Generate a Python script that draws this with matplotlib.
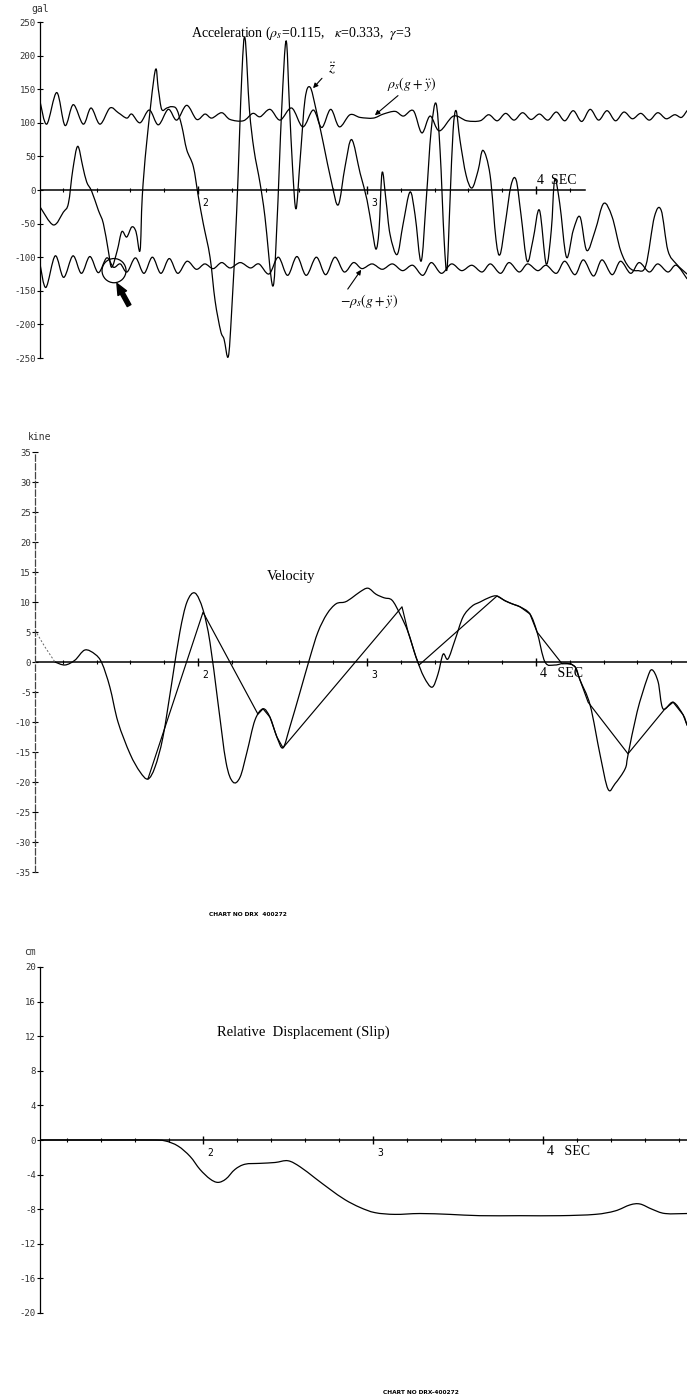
"""
slip.py - sliding block record: acceleration, velocity and slip traces.
Values digitised by eye from the chart record, shared time base in seconds.
"""
import numpy as np
import matplotlib
matplotlib.use("Agg")
import matplotlib.pyplot as plt
from matplotlib.path import Path
from matplotlib.patches import PathPatch, Ellipse

plt.rcParams["mathtext.fontset"] = "stix"

SERIF = "Liberation Serif"
MONO = "DejaVu Sans Mono"

# ---------------- acceleration (gal) ----------------
acc_ticks = [250, 200, 150, 100, 50, 0, -50, -100, -150, -200, -250]

fric_up_t = [1.065, 1.105, 1.164, 1.213, 1.262, 1.321, 1.367, 1.420, 1.479, 1.528,
             1.578, 1.608, 1.657, 1.712, 1.765, 1.824, 1.874, 1.933, 1.992, 2.041,
             2.081, 2.140, 2.189, 2.268, 2.324, 2.367, 2.426, 2.485, 2.554, 2.620,
             2.682, 2.732, 2.785, 2.836, 2.899, 2.959, 3.037, 3.096, 3.166, 3.215,
             3.274, 3.324, 3.373, 3.428, 3.511, 3.590, 3.669, 3.72, 3.77, 3.82,
             3.87, 3.92, 3.97, 4.02, 4.07, 4.12, 4.17, 4.22, 4.27, 4.32,
             4.37, 4.42, 4.47, 4.52, 4.57, 4.62, 4.67, 4.72, 4.77, 4.82,
             4.86, 4.893]
fric_up_a = [132, 98, 145, 96, 127, 98, 122, 98, 122, 115,
             107, 113, 100, 119, 97, 120, 104, 126, 105, 113,
             107, 115, 105, 103, 114, 109, 120, 104, 122, 94,
             119, 93, 120, 94, 112, 108, 107, 113, 117, 110,
             118, 85, 110, 88, 110, 103, 103, 112, 103, 114,
             104, 115, 105, 113, 104, 116, 103, 118, 102, 120,
             104, 118, 103, 116, 106, 114, 104, 115, 106, 112,
             108, 118]

fric_lo_t = [1.065, 1.10, 1.155, 1.205, 1.26, 1.31, 1.36, 1.41, 1.46, 1.50,
             1.54, 1.58, 1.63, 1.68, 1.73, 1.78, 1.83, 1.88, 1.935, 1.99,
             2.04, 2.09, 2.14, 2.19, 2.25, 2.31, 2.36, 2.42, 2.475, 2.53,
             2.585, 2.64, 2.70, 2.755, 2.81, 2.865, 2.92, 2.97, 3.03, 3.09,
             3.15, 3.21, 3.27, 3.33, 3.38, 3.44, 3.50, 3.56, 3.62, 3.68,
             3.73, 3.79, 3.84, 3.90, 3.95, 4.01, 4.06, 4.12, 4.17, 4.23,
             4.28, 4.34, 4.39, 4.45, 4.50, 4.56, 4.61, 4.67, 4.72, 4.78,
             4.83, 4.893]
fric_lo_a = [-110, -145, -98, -130, -98, -124, -99, -123, -101, -115,
             -110, -122, -101, -124, -100, -124, -102, -124, -106, -118,
             -110, -117, -108, -116, -108, -116, -110, -125, -100, -127,
             -99, -127, -100, -126, -100, -122, -108, -117, -110, -118,
             -110, -120, -112, -127, -108, -124, -110, -120, -112, -122,
             -110, -124, -108, -122, -110, -120, -112, -124, -106, -126,
             -104, -128, -104, -126, -106, -124, -108, -122, -110, -122,
             -112, -132]

zdd_t = [1.065, 1.144, 1.203, 1.233, 1.259, 1.288, 1.318, 1.341, 1.371, 1.410,
         1.440, 1.469, 1.489, 1.522, 1.549, 1.578, 1.608, 1.633, 1.657, 1.670,
         1.696, 1.746, 1.765, 1.785, 1.815, 1.844, 1.874, 1.904, 1.933, 1.972,
         2.002, 2.031, 2.071, 2.101, 2.134, 2.154, 2.179, 2.199, 2.229, 2.259,
         2.278, 2.304, 2.331, 2.367, 2.396, 2.442, 2.466, 2.495, 2.521, 2.540,
         2.560, 2.580, 2.604, 2.633, 2.663, 2.698, 2.741, 2.791, 2.830, 2.870,
         2.909, 2.959,
         3.0, 3.03, 3.053, 3.071, 3.089, 3.112, 3.136, 3.178, 3.213, 3.254,
         3.284, 3.320, 3.35, 3.379, 3.408, 3.432, 3.456, 3.473, 3.491, 3.509,
         3.527, 3.550, 3.586, 3.621, 3.657, 3.686, 3.728, 3.763, 3.787, 3.817,
         3.852, 3.882, 3.911, 3.947, 3.982,
         4.02, 4.06, 4.09, 4.11, 4.14, 4.18, 4.22, 4.26, 4.30, 4.35,
         4.40, 4.45, 4.50, 4.55, 4.60, 4.65, 4.70, 4.74, 4.78, 4.83, 4.893]
zdd_a = [-25, -52, -33, -20, 30, 65, 35, 12, -2, -30,
         -50, -90, -115, -90, -62, -70, -55, -62, -90, -10,
         70, 177, 150, 120, 122, 124, 120, 95, 60, 35,
         -10, -50, -100, -165, -210, -222, -248, -180, -30, 170,
         226, 120, 60, 10, -40, -143, -55, 120, 222, 130,
         30, -28, 45, 135, 153, 120, 70, 10, -22, 35,
         75, 25,
         -15, -59, -88, -59, 26, -15, -66, -96, -51, -3,
         -37, -106, -15, 88, 129, 59, -74, -118, -15, 88,
         118, 74, 22, 3, 29, 59, 22, -74, -96, -51,
         7, 15, -37, -106, -74,
         -30, -110, -60, 15, -20, -100, -60, -40, -90, -60,
         -20, -40, -90, -115, -120, -112, -40, -30, -90, -110, -125]

# ---------------- velocity (kine) ----------------
vel_ticks = [35, 30, 25, 20, 15, 10, 5, 0, -5, -10, -15, -20, -25, -30, -35]

lead_t = [1.036, 1.095, 1.154]
lead_v = [5.3, 2.5, 0]

ground_t = [1.154, 1.213, 1.272, 1.331, 1.391, 1.432, 1.479, 1.527, 1.598, 1.657,
            1.704, 1.746, 1.793, 1.846, 1.893, 1.935, 1.982, 2.030, 2.071, 2.118,
            2.166, 2.207, 2.249, 2.290, 2.337, 2.385, 2.426, 2.467, 2.503, 2.544,
            2.604, 2.663, 2.710, 2.763, 2.817, 2.870, 2.911, 2.959, 3.006, 3.053,
            3.101, 3.148, 3.195, 3.243, 3.290, 3.337, 3.385, 3.420, 3.450, 3.479,
            3.521, 3.568, 3.621, 3.669, 3.728, 3.769, 3.817, 3.858, 3.905, 3.964,
            4.006, 4.053, 4.112, 4.172, 4.231, 4.260, 4.320, 4.379, 4.426, 4.467,
            4.527, 4.544, 4.598, 4.657, 4.686, 4.722, 4.751, 4.811, 4.870, 4.893]
ground_v = [0, -0.5, 0.3, 2.0, 1.3, -0.2, -4.2, -10, -15.3, -18.3,
            -19.5, -17.5, -12.5, -3.3, 5, 10, 11.5, 8.7, 3.3, -6.7,
            -16.7, -20, -19.2, -15, -9.7, -7.8, -9.2, -12.5, -14.3, -10.8,
            -5, 0.8, 5, 8, 9.7, 10, 10.7, 11.7, 12.3, 11.3,
            10.7, 10.3, 8, 5, 0.8, -2.5, -4.2, -2, 1.3, 0.5,
            3.7, 7.5, 9.3, 10, 10.8, 11, 10.2, 9.7, 9.2, 8,
            5, 0, -0.5, -0.2, -0.8, -3, -7.2, -15.5, -21.2, -20.3,
            -17.8, -15.5, -8.3, -2.8, -1.3, -3.3, -7.8, -6.7, -8.8, -10.5]

block_t = [1.704, 2.030, 2.355, 2.385, 2.426, 2.467, 2.503, 3.207, 3.243, 3.290,
           3.308, 3.769, 3.817, 3.858, 3.905, 3.964, 4.006, 4.154, 4.207, 4.231,
           4.260, 4.308, 4.544, 4.763, 4.811, 4.870, 4.893]
block_v = [-19.5, 8.3, -8.7, -7.8, -9.2, -12.5, -14.3, 9.2, 5, 0.8,
           -0.5, 11, 10.2, 9.7, 9.2, 8, 5, -0.3, -0.3, -0.8,
           -3, -6.7, -15.3, -7.8, -6.7, -8.8, -10.5]

# ---------------- relative displacement (cm) ----------------
slip_ticks = [20, 16, 12, 8, 4, 0, -4, -8, -12, -16, -20]
slip_t = [1.041, 1.394, 1.688, 1.776, 1.853, 1.924, 1.982, 2.041, 2.088, 2.135,
          2.188, 2.247, 2.335, 2.424, 2.5, 2.571, 2.659, 2.747, 2.835, 2.924,
          3.012, 3.129, 3.276, 3.453, 3.629, 3.865, 4.1, 4.306, 4.424, 4.512,
          4.571, 4.641, 4.718, 4.847]
slip_d = [0, 0, 0, -0.1, -0.7, -1.9, -3.4, -4.5, -4.9, -4.5,
          -3.4, -2.8, -2.7, -2.6, -2.4, -3.1, -4.4, -5.7, -6.9, -7.8,
          -8.4, -8.6, -8.5, -8.6, -8.75, -8.75, -8.75, -8.6, -8.2, -7.5,
          -7.4, -8.0, -8.5, -8.5]

sec_major = [2, 3, 4]
sec_minor = [1.2, 1.4, 1.6, 1.8, 2.2, 2.4, 2.6, 2.8, 3.2, 3.4, 3.6, 3.8,
             4.2, 4.4, 4.6, 4.8]


def curve(ax, t, v, lw=0.9, **kw):
    """Smooth pen line through the read points (Catmull-Rom as cubic Bezier)."""
    pts = np.column_stack([t, v]).astype(float)
    n = len(pts)
    verts, codes = [pts[0]], [Path.MOVETO]
    for i in range(n - 1):
        p0 = pts[i - 1] if i > 0 else pts[i]
        p1, p2 = pts[i], pts[i + 1]
        p3 = pts[i + 2] if i + 2 < n else pts[i + 1]
        verts += [p1 + (p2 - p0) / 6, p2 - (p3 - p1) / 6, p2]
        codes += [Path.CURVE4] * 3
    ax.add_patch(PathPatch(Path(verts, codes), fill=False, lw=lw,
                           ec="black", capstyle="round", **kw))


def frame(ax, xlim, ylim, yticks, t_end=None):
    ax.set_xlim(xlim)
    ax.set_ylim(ylim)
    for s in ("top", "right", "bottom"):
        ax.spines[s].set_visible(False)
    ax.spines["left"].set_linewidth(0.9)
    ax.set_xticks([])
    ax.set_yticks(yticks)
    ax.set_yticklabels([str(v) for v in yticks], family=MONO, fontsize=6.5,
                       color="#333333")
    ax.tick_params(axis="y", direction="inout", length=4, width=0.8, pad=1)
    end = xlim[1] if t_end is None else t_end
    ax.plot([xlim[0], end], [0, 0], color="black", lw=1.1)
    major = [t for t in sec_major if t <= end]
    minor = [t for t in sec_minor if t <= end]
    ax.plot(major, [0] * len(major), "|", color="black", ms=6, mew=1)
    ax.plot(minor, [0] * len(minor), "|", color="black", ms=3, mew=0.8)
    ax.patch.set_alpha(0)


fig = plt.figure(figsize=(6.87, 14), dpi=100)
W, H = 687.0, 1400.0


def axes_px(left, top, right, bottom):
    return fig.add_axes([left / W, 1 - bottom / H, (right - left) / W, (bottom - top) / H])


# ---- acceleration panel ----
ax1 = axes_px(40, 22, 687, 358)
frame(ax1, (1.065, 4.893), (-250, 250), acc_ticks, t_end=4.29)
curve(ax1, fric_up_t, fric_up_a)
curve(ax1, fric_lo_t, fric_lo_a)
curve(ax1, zdd_t, zdd_a)
for tk in (2, 3):
    ax1.annotate(str(tk), (tk, 0), xytext=(3, -9), textcoords="offset points",
                 family=MONO, fontsize=7, va="center")
ax1.annotate("4  SEC", (4, 0), xytext=(1, 7), textcoords="offset points",
             family=SERIF, fontsize=10, va="center")
ax1.annotate(r"$\ddot{z}$", (2.675, 150), xytext=(2.79, 182), fontsize=11,
             ha="center", va="center",
             arrowprops=dict(arrowstyle="-|>", lw=0.8, color="black",
                             mutation_scale=7, shrinkA=3, shrinkB=1))
ax1.annotate(r"$\rho_s(g+\ddot{y})$", (3.04, 110), xytext=(3.12, 158), fontsize=10,
             ha="left", va="center",
             arrowprops=dict(arrowstyle="-|>", lw=0.8, color="black",
                             mutation_scale=7, shrinkA=0, shrinkB=1))
ax1.annotate(r"$-\rho_s(g+\ddot{y})$", (2.97, -117), xytext=(2.84, -165), fontsize=10,
             ha="left", va="center",
             arrowprops=dict(arrowstyle="-|>", lw=0.8, color="black",
                             mutation_scale=7, shrinkA=0, shrinkB=1,
                             relpos=(0.1, 1.0)))
ax1.add_patch(Ellipse((1.503, -120), 0.142, 36, fill=False, lw=0.9, ec="black"))
ax1.annotate("", (1.52, -139), xytext=(1.592, -172),
             arrowprops=dict(arrowstyle="simple,head_width=0.7,head_length=0.8,tail_width=0.3",
                             fc="black", ec="black", shrinkA=0, shrinkB=0))
fig.text(40 / W, 1 - 9 / H, "gal", family=MONO, fontsize=7, ha="center", va="center",
         color="#333333")
fig.text(301 / W, 1 - 33 / H,
         r"Acceleration ($\rho_s$=0.115,   $\kappa$=0.333,  $\gamma$=3",
         family=SERIF, fontsize=10, ha="center", va="center")

# ---- velocity panel ----
ax2 = axes_px(35, 452, 687, 872)
frame(ax2, (1.036, 4.893), (-35, 35), vel_ticks)
ax2.spines["left"].set_linestyle((0, (5, 2)))
ax2.spines["left"].set_color("#444444")
ax2.plot(lead_t, lead_v, color="#666666", lw=0.7, ls=(0, (2, 2)))
curve(ax2, ground_t, ground_v)
ax2.plot(block_t, block_v, color="black", lw=0.85)
for tk in (2, 3):
    ax2.annotate(str(tk), (tk, 0), xytext=(3, -9), textcoords="offset points",
                 family=MONO, fontsize=7, va="center")
ax2.annotate("4   SEC", (4, 0), xytext=(3, -8), textcoords="offset points",
             family=SERIF, fontsize=10, va="center")
ax2.text(2.55, 14.3, "Velocity", family=SERIF, fontsize=10.5, ha="center", va="center")
fig.text(40 / W, 1 - 437 / H, "kine", family=MONO, fontsize=7, ha="center", va="center",
         color="#333333")
fig.text(248 / W, 1 - 915 / H, "CHART NO DRX  400272", family="DejaVu Sans",
         fontsize=4.2, weight="bold", ha="center", va="center")

# ---- displacement panel ----
ax3 = axes_px(40, 967, 687, 1313)
frame(ax3, (1.041, 4.847), (-20, 20), slip_ticks)
curve(ax3, slip_t, slip_d)
for tk in (2, 3):
    ax3.annotate(str(tk), (tk, 0), xytext=(3, -9), textcoords="offset points",
                 family=MONO, fontsize=7, va="center")
ax3.annotate("4   SEC", (4, 0), xytext=(3, -8), textcoords="offset points",
             family=SERIF, fontsize=10, va="center")
ax3.text(2.59, 12.5, "Relative  Displacement (Slip)", family=SERIF, fontsize=10.5,
         ha="center", va="center")
fig.text(30 / W, 1 - 952 / H, "cm", family=MONO, fontsize=7, ha="center", va="center",
         color="#333333")
fig.text(421 / W, 1 - 1392 / H, "CHART NO DRX-400272", family="DejaVu Sans",
         fontsize=4.2, weight="bold", ha="center", va="center")

fig.savefig("out.png", dpi=100)
